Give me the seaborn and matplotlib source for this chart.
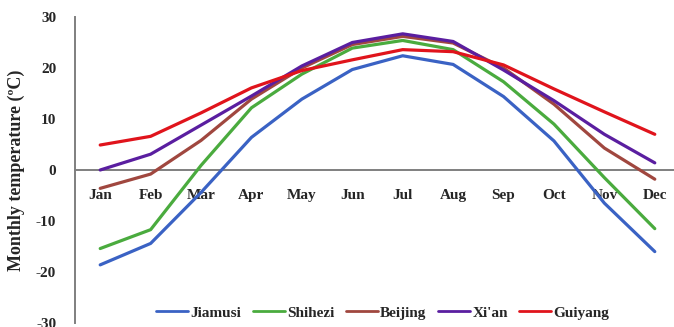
import matplotlib
matplotlib.use("Agg")
import matplotlib.pyplot as plt
import seaborn as sns
import pandas as pd
from matplotlib.ticker import FixedLocator

months = ["Jan", "Feb", "Mar", "Apr", "May", "Jun",
          "Jul", "Aug", "Sep", "Oct", "Nov", "Dec"]
cities = ["Jiamusi", "Shihezi", "Beijing", "Xi'an", "Guiyang"]

jiamusi = [-18.6, -14.4, -4.4, 6.4, 13.9, 19.7, 22.4, 20.7, 14.4, 5.7, -6.5, -16.0]
shihezi = [-15.4, -11.7, 0.9, 12.2, 18.8, 23.9, 25.4, 23.6, 17.3, 9.0, -1.5, -11.5]
beijing = [-3.6, -0.8, 5.8, 13.9, 20.0, 24.6, 26.2, 24.9, 20.0, 12.9, 4.3, -1.8]
xian = [0.0, 3.1, 8.8, 14.5, 20.4, 25.0, 26.7, 25.2, 19.6, 13.6, 7.0, 1.4]
guiyang = [4.9, 6.6, 11.2, 16.1, 19.5, 21.6, 23.6, 23.2, 20.6, 15.9, 11.4, 7.0]

palette = ["#3a62c4", "#4aab3e", "#a0473f", "#5a1ea0", "#e0141c"]

series = [jiamusi, shihezi, beijing, xian, guiyang]
df = pd.DataFrame({
    "month": [m for _ in cities for m in range(len(months))],
    "city": [c for c in cities for _ in months],
    "temp": [v for s in series for v in s],
})

sns.set_style("white")
plt.rcParams["font.family"] = ["Liberation Serif", "DejaVu Serif"]
plt.rcParams["font.weight"] = "bold"

fig = plt.figure(figsize=(6.74, 3.27), dpi=100)
ax = fig.add_axes([75 / 674, 4 / 327, 605 / 674, 306 / 327])

sns.lineplot(data=df, x="month", y="temp", hue="city", hue_order=cities,
             palette=palette, linewidth=2.3, ax=ax, legend=False)

ax.set_xlim(-0.5, len(months) - 0.5)
ax.set_ylim(-30, 30)

grey = "#7f7f7f"
for s in ["top", "right"]:
    ax.spines[s].set_visible(False)
ax.spines["bottom"].set_position(("data", 0))
ax.spines["bottom"].set_color(grey)
ax.spines["left"].set_color(grey)
ax.spines["bottom"].set_linewidth(1.4)
ax.spines["left"].set_linewidth(1.4)
ax.spines["bottom"].set_zorder(0.5)

ax.set_xticks(range(len(months)))
ax.set_xticklabels(months, fontsize=11, fontweight="bold")
ax.xaxis.set_minor_locator(FixedLocator([i + 0.5 for i in range(len(months) - 1)]))
ax.tick_params(axis="x", which="major", length=0, pad=14)
ax.tick_params(axis="x", which="minor", direction="in", length=4, color=grey, width=1.2)

ax.set_yticks([-30, -20, -10, 0, 10, 20, 30])
ax.set_yticklabels(["-30", "-20", "-10", "0", "10", "20", "30"], fontsize=11, fontweight="bold")
ax.tick_params(axis="y", direction="inout", length=6, color=grey, width=1.2, pad=10.5)

ax.set_xlabel("")
ax.set_ylabel("Monthly temperature (ºC)", fontsize=13, fontweight="bold")
ax.yaxis.set_label_coords(-0.082, 0.5)

handles = [plt.Line2D([], [], color=c, linewidth=2) for c in palette]
fig.legend(handles, cities, loc="center", bbox_to_anchor=(0.568, 0.043), ncol=5,
           frameon=False, handlelength=2.1, handletextpad=0.15, columnspacing=0.75,
           prop={"size": 11, "weight": "bold"})

fig.savefig("out.png", dpi=100)
